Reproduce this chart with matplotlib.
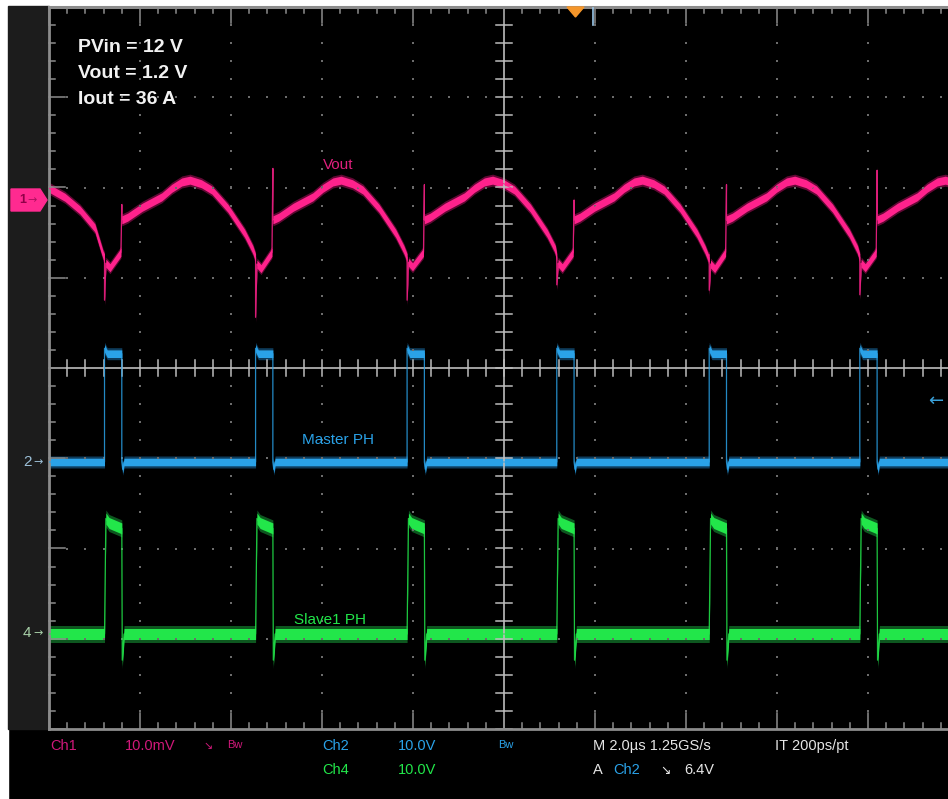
import numpy as np
import matplotlib
matplotlib.use("Agg")
import matplotlib.pyplot as plt
from matplotlib.patches import Rectangle, Polygon
from matplotlib import font_manager

# ---------------- data read from the scope screen ----------------
# switching edges (time from left edge of screen, microseconds)
rise_us = [1.22, 4.54, 7.87, 11.16, 14.51, 17.82]
width_us = [0.38, 0.38, 0.38, 0.38, 0.38, 0.38]

# Master PH (Ch2, volts)
master_top_v = [12.6, 12.6, 12.6, 12.6, 12.6, 12.6]
master_flat_v = [12.0, 12.0, 12.0, 12.0, 12.0, 12.0]
master_dip_v = [-0.8, -0.8, -0.8, -0.8, -0.8, -0.8]

# Slave1 PH (Ch4, volts)
slave_top_v = [12.8, 12.8, 12.8, 12.8, 12.8, 12.8]
slave_end_v = [11.7, 11.7, 11.7, 11.7, 11.7, 11.7]
slave_dip_v = [-2.9, -2.9, -2.9, -2.9, -2.9, -2.9]

# Vout ripple (Ch1, mV around the channel marker)
vout_lead_t_us = [0.0, 0.35, 0.68, 1.01, 1.19]
vout_lead_mv = [1.3, 0.3, -1.1, -3.1, -6.1]
vout_pre_mv = [-6.4, -6.4, -6.4, -6.4, -6.4, -6.4]
vout_down_spike_mv = [-11.1, -13.0, -11.1, -9.4, -10.0, -10.5]
vout_pulse_low_mv = [-7.5, -7.6, -7.4, -7.5, -7.6, -7.5]
vout_pulse_end_mv = [-5.8, -5.8, -5.8, -5.8, -5.8, -5.8]
vout_up_spike_mv = [-0.5, 3.5, 1.7, 0.0, 1.7, 3.3]
# shape of the ripple arc after each falling edge
arc_t_us = [0.0, 0.13, 0.45, 0.88, 1.10, 1.32, 1.50, 1.75, 1.98, 2.33, 2.70, 2.88, 2.95]
arc_mv = [-2.2, -1.9, -0.8, 0.35, 1.3, 2.0, 2.2, 1.8, 1.1, -0.9, -3.7, -5.5, -6.4]

header_lines = ["PVin = 12 V", "Vout = 1.2 V", "Iout = 36 A"]

# ---------------- layout ----------------
W, H = 948, 799
L, T, R, B = 49, 7, 959, 729
DX = 1 / 91.0      # div per px horizontally
DY = 1 / 90.25     # div per px vertically
TIME_DIV = 2.0     # us/div
CH1_SCALE, CH1_POS = 10.0, (368 - 200) * DY
CH2_SCALE, CH2_POS = 10.0, (368 - 462) * DY
CH4_SCALE, CH4_POS = 10.0, (368 - 634) * DY

PINK = "#ff228c"
BLUE = "#2aa2e8"
GREEN = "#22e64a"

names = {f.name for f in font_manager.fontManager.ttflist}
NARROW = "Liberation Sans Narrow" if "Liberation Sans Narrow" in names else "Liberation Sans"

fig = plt.figure(figsize=(W / 100, H / 100), dpi=100, facecolor="black")


def fx(px):
    return px / W


def fy(py):
    return 1 - py / H


def ftxt(x, y, s, **kw):
    kw.setdefault("va", "center")
    kw.setdefault("ha", "left")
    fig.text(fx(x), fy(y), s, **kw)


# white frame + left grey strip
fig.add_artist(Rectangle((0, fy(6)), 1, 6 / H, transform=fig.transFigure, color="white", zorder=0))
fig.add_artist(Rectangle((0, 0), fx(8), 1, transform=fig.transFigure, color="white", zorder=0))
fig.add_artist(Rectangle((fx(8), fy(B)), fx(L - 8), (B - 6) / H, transform=fig.transFigure,
                         color="#1c1c1c", zorder=0))

ax = fig.add_axes([fx(L), fy(B), (R - L) / W, (B - T) / H])
ax.set_xlim(0, 10)
ax.set_ylim(-4, 4)
ax.axis("off")

# ---------------- graticule ----------------
minor_x = np.arange(0, 10.001, 0.2)
minor_y = np.arange(-4, 4.001, 0.2)
gcol = "#6c6c6c"
for xv in [1, 2, 3, 4, 6, 7, 8, 9]:
    ax.plot(np.full_like(minor_y, xv), minor_y, ls="none", marker="s", ms=1.5, color=gcol, mew=0)
for yv in [-3, -2, -1, 1, 2, 3]:
    ax.plot(minor_x, np.full_like(minor_x, yv), ls="none", marker="s", ms=1.5, color=gcol, mew=0)
ccol = "#bdbdbd"
ax.plot([0, 10], [0, 0], color=ccol, lw=1.2)
ax.plot([5, 5], [-4, 4], color=ccol, lw=1.2)
for xv in minor_x:
    ax.plot([xv, xv], [-8 * DY, 8 * DY], color=ccol, lw=1.1)
for yv in minor_y:
    ax.plot([5 - 8 * DX, 5 + 8 * DX], [yv, yv], color=ccol, lw=1.1)
bcol = "#8c8c8c"
ax.plot([0, 10], [4, 4], color=bcol, lw=2.2, clip_on=False)
ax.plot([0, 10], [-4, -4], color=bcol, lw=2.0, clip_on=False)
ax.plot([0, 0], [-4, 4], color=bcol, lw=2.0, clip_on=False)
for xv in minor_x:
    ln = 16 if abs(xv - round(xv)) < 1e-6 else 6
    ax.plot([xv, xv], [4, 4 - ln * DY], color=bcol, lw=1.1, clip_on=False)
    ax.plot([xv, xv], [-4, -4 + ln * DY], color=bcol, lw=1.1, clip_on=False)
for yv in minor_y:
    ln = 16 if abs(yv - round(yv)) < 1e-6 else 6
    ax.plot([0, ln * DX], [yv, yv], color=bcol, lw=1.1, clip_on=False)

# ---------------- build traces ----------------
# Vout
vt = list(vout_lead_t_us)
vv = list(vout_lead_mv)
for k, r in enumerate(rise_us):
    f = r + width_us[k]
    nxt = rise_us[k + 1] if k + 1 < len(rise_us) else 20.0
    vt += [r, r, r + 0.03, r + 0.12, f - 0.02, f, f]
    vv += [vout_pre_mv[k], vout_down_spike_mv[k], vout_pulse_low_mv[k] + 0.5,
           vout_pulse_low_mv[k], vout_pulse_end_mv[k], vout_up_spike_mv[k], arc_mv[0]]
    for dt, mv in zip(arc_t_us[1:], arc_mv[1:]):
        if f + dt < nxt - 0.005:
            vt.append(f + dt)
            vv.append(mv)
        else:
            break

# Master PH
mt, mv_ = [0.0], [0.0]
for k, r in enumerate(rise_us):
    f = r + width_us[k]
    mt += [r, r, r + 0.06, f, f, f + 0.02, f + 0.05]
    mv_ += [0.0, master_top_v[k], master_flat_v[k], master_flat_v[k], 0.0, master_dip_v[k], 0.0]
mt.append(20.0)
mv_.append(0.0)

# Slave1 PH
st, sv = [0.0], [0.0]
for k, r in enumerate(rise_us):
    f = r + width_us[k]
    st += [r, r + 0.03, r + 0.10, f, f + 0.01, f + 0.05]
    sv += [0.0, slave_top_v[k], slave_top_v[k] - 0.5, slave_end_v[k], slave_dip_v[k], 0.0]
st.append(20.0)
sv.append(0.0)


def draw_trace(t_us, vals, scale, pos, color, glow, core_px, outer_px):
    x = np.asarray(t_us) / TIME_DIV
    y = np.asarray(vals) / scale + pos
    ax.fill_between(x, y - outer_px * DY, y + outer_px * DY, color=glow, alpha=0.55, lw=0)
    ax.fill_between(x, y - core_px * DY, y + core_px * DY, color=color, lw=0)
    ax.plot(x, y, color=color, lw=0.9, alpha=0.85)


draw_trace(vt, vv, CH1_SCALE, CH1_POS, PINK, "#b0105e", 4.0, 6.0)
draw_trace(mt, mv_, CH2_SCALE, CH2_POS, BLUE, "#1a6fa8", 3.8, 6.0)
draw_trace(st, sv, CH4_SCALE, CH4_POS, GREEN, "#18a03a", 5.5, 8.5)

# ---------------- annotations ----------------
for i, s in enumerate(header_lines):
    ftxt(78, 47 + i * 26.5, s, color="#f2f2f2", fontsize=14, fontweight="bold",
         family="Liberation Sans")

ftxt(338, 165, "Vout", color="#e0207e", fontsize=11, ha="center", family="Liberation Sans")
ftxt(338, 440, "Master PH", color=BLUE, fontsize=11, ha="center", family="Liberation Sans")
ftxt(330, 620, "Slave1 PH", color=GREEN, fontsize=11, ha="center", family="Liberation Sans")

# channel markers on the left
fig.add_artist(Polygon([(fx(11), fy(189)), (fx(40), fy(189)), (fx(47), fy(200)),
                        (fx(40), fy(211)), (fx(11), fy(211))],
                       closed=True, transform=fig.transFigure, color="#ff2a90", zorder=3))
ftxt(19, 200, "1", color="#900048", fontsize=9, fontweight="bold", family="Liberation Sans", zorder=4)
ftxt(27, 200, "\u2192", color="#b01060", fontsize=8, family="DejaVu Sans", zorder=4)
ftxt(23, 462, "2", color="#9cc0d8", fontsize=11, family="Liberation Sans")
ftxt(33, 462, "\u2192", color="#9cc0d8", fontsize=8, family="DejaVu Sans")
ftxt(23, 633, "4", color="#a8d0a8", fontsize=11, family="Liberation Sans")
ftxt(33, 633, "\u2192", color="#a8d0a8", fontsize=8, family="DejaVu Sans")

# trigger markers
fig.add_artist(Polygon([(fx(567), fy(7)), (fx(584), fy(7)), (fx(575.5), fy(17))],
                       closed=True, transform=fig.transFigure, color="#f5962a", zorder=3))
fig.add_artist(plt.Line2D([fx(593), fx(593)], [fy(8), fy(25)], transform=fig.transFigure,
                          color="#9cc8ea", lw=1.2, zorder=3))
ftxt(928, 401, "\u2190", color="#3aa0d8", fontsize=13, family="DejaVu Sans")

# ---------------- status readout ----------------
r1, r2 = 746, 770
fs = 10.5
ftxt(50, r1, "Ch1", color="#d0187a", fontsize=fs, family=NARROW)
ftxt(125, r1, "10.0mV", color="#d0187a", fontsize=fs, family=NARROW)
ftxt(203, r1, "\u2198", color="#d0187a", fontsize=8, family="DejaVu Sans")
ftxt(227, r1 - 1, "Bw", color="#d0187a", fontsize=8, family=NARROW)
ftxt(322, r1, "Ch2", color=BLUE, fontsize=fs, family=NARROW)
ftxt(398, r1, "10.0V", color=BLUE, fontsize=fs, family=NARROW)
ftxt(498, r1 - 1, "Bw", color=BLUE, fontsize=8, family=NARROW)
ftxt(593, r1, "M 2.0\u00b5s 1.25GS/s", color="#e6e6e6", fontsize=fs, family=NARROW)
ftxt(775, r1, "IT 200ps/pt", color="#e6e6e6", fontsize=fs, family=NARROW)
ftxt(322, r2, "Ch4", color=GREEN, fontsize=fs, family=NARROW)
ftxt(398, r2, "10.0V", color=GREEN, fontsize=fs, family=NARROW)
ftxt(593, r2, "A", color="#e6e6e6", fontsize=fs, family=NARROW)
ftxt(613, r2, "Ch2", color=BLUE, fontsize=fs, family=NARROW)
ftxt(660, r2, "\u2198", color="#e6e6e6", fontsize=9, family="DejaVu Sans")
ftxt(684, r2, "6.4V", color="#e6e6e6", fontsize=fs, family=NARROW)

fig.savefig("out.png", dpi=100, facecolor="black")
